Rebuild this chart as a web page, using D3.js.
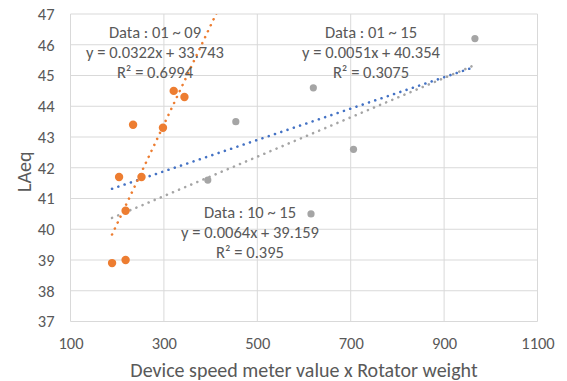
<!DOCTYPE html>
<html>
<head>
<meta charset="utf-8">
<script src="https://cdn.jsdelivr.net/npm/d3@7"></script>
<style>
  html, body { margin: 0; padding: 0; background: #fff; }
  svg { display: block; }
  text { font-family: Calibri, Carlito, Lato, sans-serif; fill: #595959; }
</style>
</head>
<body>
<svg id="chart" width="567" height="381"></svg>
<script>
// ---- data ----
const xTicks = [100, 300, 500, 700, 900, 1100];
const yTicks = [37, 38, 39, 40, 41, 42, 43, 44, 45, 46, 47];

// Data 01 ~ 09 (orange)
const orangeX = [189, 204, 218, 218, 234, 252, 298, 321, 344];
const orangeY = [38.9, 41.7, 40.6, 39.0, 43.4, 41.7, 43.3, 44.5, 44.3];

// Data 10 ~ 15 (gray)
const grayX = [394, 454, 615, 620, 706, 966];
const grayY = [41.6, 43.5, 40.5, 44.6, 42.6, 46.2];

// Trendlines (from the chart's equations)
const trendNames = ["Data : 01 ~ 09", "Data : 01 ~ 15", "Data : 10 ~ 15"];
const trendSlopes = [0.0322, 0.0051, 0.0064];
const trendIntercepts = [33.743, 40.354, 39.159];
const trendR2 = ["0.6994", "0.3075", "0.395"];
const trendRange = [189, 966];

const xTitle = "Device speed meter value x Rotator weight";
const yTitle = "LAeq";

// ---- drawing ----
(function () {
const svg = d3.select("#chart");
const pL = 70.5, pR = 537.5, pT = 14, pB = 321.5;

const x = d3.scaleLinear().domain([100, 1100]).range([pL, pR]);
const y = d3.scaleLinear().domain([37, 47]).range([pB, pT]);

const gridColor = "#D9D9D9";
const font = 'Calibri, Carlito, Lato, sans-serif';

// gridlines
svg.append("g").selectAll("line").data(yTicks).join("line")
  .attr("x1", pL).attr("x2", pR)
  .attr("y1", d => y(d)).attr("y2", d => y(d))
  .attr("stroke", gridColor).attr("stroke-width", 1);
svg.append("g").selectAll("line").data(xTicks).join("line")
  .attr("y1", pT).attr("y2", pB)
  .attr("x1", d => x(d)).attr("x2", d => x(d))
  .attr("stroke", gridColor).attr("stroke-width", 1);

// axes labels via d3 axes
const xAxis = svg.append("g").attr("transform", `translate(0,${pB})`)
  .call(d3.axisBottom(x).tickValues(xTicks).tickSize(0).tickPadding(16).tickFormat(d3.format("d")));
const yAxis = svg.append("g").attr("transform", `translate(${pL},0)`)
  .call(d3.axisLeft(y).tickValues(yTicks).tickSize(0).tickPadding(16).tickFormat(d3.format("d")));
[xAxis, yAxis].forEach(a => {
  a.select(".domain").remove();
  a.selectAll("text").attr("fill", "#595959").style("font-size", "16.5px").style("font-family", font);
});

// clip
svg.append("clipPath").attr("id", "plotclip").append("rect")
  .attr("x", pL).attr("y", pT).attr("width", pR - pL).attr("height", pB - pT);

// trendlines
const trendColors = ["#ED7D31", "#4472C4", "#A5A5A5"];
const trends = trendSlopes.map((m, i) => ({ m, b: trendIntercepts[i], c: trendColors[i] }));
const lineGen = d3.line().x(d => x(d[0])).y(d => y(d[1]));
const tg = svg.append("g").attr("clip-path", "url(#plotclip)");
[2, 1, 0].forEach(i => {
  const t = trends[i];
  const pts = trendRange.map(v => [v, t.m * v + t.b]);
  tg.append("path").datum(pts)
    .attr("d", lineGen)
    .attr("fill", "none")
    .attr("stroke", t.c)
    .attr("stroke-width", 2.6)
    .attr("stroke-linecap", "round")
    .attr("stroke-dasharray", "0.01 6.6");
});

// points
svg.append("g").selectAll("circle").data(grayX.map((v, i) => [v, grayY[i]])).join("circle")
  .attr("cx", d => x(d[0])).attr("cy", d => y(d[1])).attr("r", 3.6)
  .attr("fill", "#A5A5A5");
svg.append("g").selectAll("circle").data(orangeX.map((v, i) => [v, orangeY[i]])).join("circle")
  .attr("cx", d => x(d[0])).attr("cy", d => y(d[1])).attr("r", 4.2)
  .attr("fill", "#ED7D31");

// trend labels
const labelPos = [[155, 32], [371, 32], [250, 212.7]];
trends.forEach((t, i) => {
  const [cx, cy] = labelPos[i];
  const g = svg.append("text").attr("text-anchor", "middle").style("font-size", "16.5px");
  g.append("tspan").attr("x", cx).attr("y", cy).attr("dy", "0.35em").text(trendNames[i]);
  g.append("tspan").attr("x", cx).attr("y", cy + 20).attr("dy", "0.35em")
    .text(`y = ${t.m}x + ${t.b}`);
  g.append("tspan").attr("x", cx).attr("y", cy + 40).attr("dy", "0.35em")
    .text(`R² = ${trendR2[i]}`);
});

// axis titles
svg.append("text").attr("x", (pL + pR) / 2).attr("y", 370).attr("dy", "0.35em")
  .attr("text-anchor", "middle").style("font-size", "20px").text(xTitle);
svg.append("text").attr("transform", `translate(24,${(pT + pB) / 2 + 4}) rotate(-90)`)
  .attr("dy", "0.35em").attr("text-anchor", "middle").style("font-size", "20px").text(yTitle);
})();
</script>
</body>
</html>
